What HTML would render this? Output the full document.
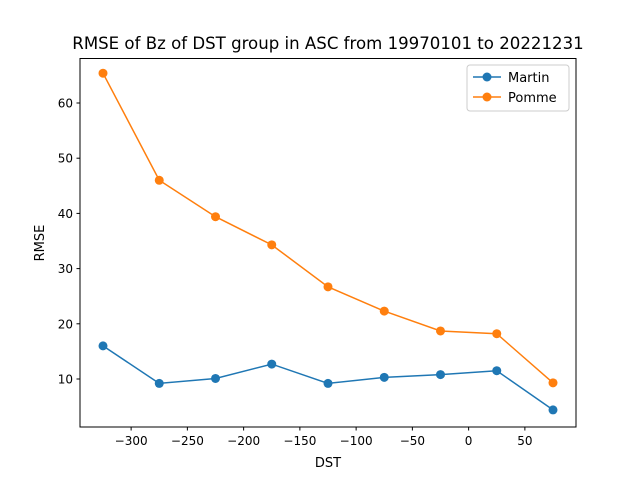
<!DOCTYPE html>
<html><head><meta charset="utf-8"><style>
body{margin:0;background:#fff;font-family:"Liberation Sans","DejaVu Sans",sans-serif;}
svg text{font-family:"DejaVu Sans","Liberation Sans",sans-serif;}
</style></head><body>
<svg id="chart" width="640" height="480" xmlns="http://www.w3.org/2000/svg">
<rect width="640" height="480" fill="#fff"/>
<text x="328" y="49" font-size="16.6" text-anchor="middle">RMSE of Bz of DST group in ASC from 19970101 to 20221231</text>
<g id="axes"></g>
<g id="series"></g>
<rect x="80" y="58.5" width="496" height="368.5" fill="none" stroke="#000" stroke-width="1"/>
<text x="328" y="467" font-size="13" text-anchor="middle">DST</text>
<text transform="translate(44,243) rotate(-90)" font-size="13" text-anchor="middle">RMSE</text>
<g>
<rect x="467" y="65" width="102" height="46" rx="3" fill="#fff" stroke="#ccc"/>
<g><line x1="473" y1="77" x2="501" y2="77" stroke="#1f77b4" stroke-width="1.5"/><circle cx="487" cy="77" r="4.5" fill="#1f77b4"/><text x="508" y="82" font-size="13">Martin</text></g>
<g><line x1="473" y1="97" x2="501" y2="97" stroke="#ff7f0e" stroke-width="1.5"/><circle cx="487" cy="97" r="4.5" fill="#ff7f0e"/><text x="508" y="102" font-size="13">Pomme</text></g>
</g>
</svg>
<script>
const categories=[-325,-275,-225,-175,-125,-75,-25,25,75];
const martin=[16.0,9.2,10.1,12.7,9.2,10.3,10.8,11.5,4.4];
const pomme=[65.4,46.0,39.4,34.3,26.7,22.3,18.7,18.2,9.3];
const xTicks=[-300,-250,-200,-150,-100,-50,0,50];
const yTicks=[10,20,30,40,50,60];
const NS="http://www.w3.org/2000/svg";
function xs(v){return 103+(v+325)*1.125;}
function ys(v){return 434.2-v*5.52;}
const axes=document.getElementById('axes');
function mk(tag,attrs,parent){const e=document.createElementNS(NS,tag);for(const k in attrs)e.setAttribute(k,attrs[k]);parent.appendChild(e);return e;}
xTicks.forEach(t=>{
  const g=mk('g',{},axes);
  
  
  mk('line',{x1:xs(t),x2:xs(t),y1:427,y2:430.5,stroke:'#000'},g);
  const tx=mk('text',{x:xs(t),y:445,'font-size':'12','text-anchor':'middle'},g);tx.textContent=t<0?'\u2212'+(-t):t;
});
yTicks.forEach(t=>{
  const g=mk('g',{},axes);
  
  
  mk('line',{x1:76.5,x2:80,y1:ys(t),y2:ys(t),stroke:'#000'},g);
  const tx=mk('text',{x:73,y:ys(t)+4.5,'font-size':'12','text-anchor':'end'},g);tx.textContent=t;
});
const sg=document.getElementById('series');
[[martin,'#1f77b4','martin'],[pomme,'#ff7f0e','pomme']].forEach(([d,c,n])=>{
  const g=mk('g',{},sg);
  
  
  const pts=d.map((v,i)=>xs(categories[i])+','+ys(v)).join(' ');
  const pl=mk('polyline',{points:pts,fill:'none',stroke:c,'stroke-width':1.5},g);
  
  
  d.forEach((v,i)=>{const p=mk('circle',{cx:xs(categories[i]),cy:ys(v),r:4.5,fill:c},g);
    
    });
});
</script>
</body></html>
